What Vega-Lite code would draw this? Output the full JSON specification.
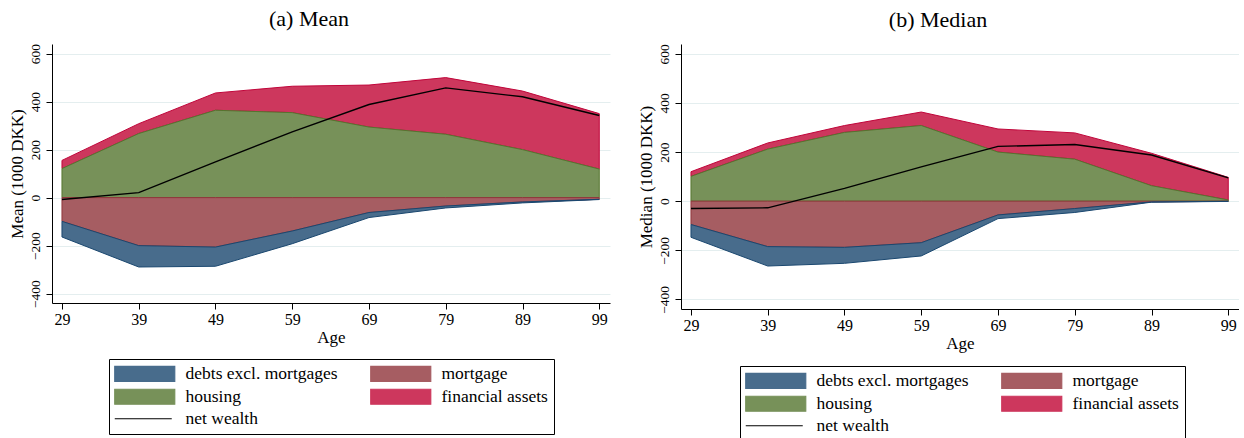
{
  "$schema": "https://vega.github.io/schema/vega-lite/v6.json",
  "padding": {"left": 8, "top": 8, "right": 0, "bottom": 0},
  "data": {
    "values": [
      {"stat": "Mean", "age": 29, "series": "financial assets", "value": 34},
      {"stat": "Mean", "age": 29, "series": "housing", "value": 121},
      {"stat": "Mean", "age": 29, "series": "mortgage", "value": -99},
      {"stat": "Mean", "age": 29, "series": "debts excl. mortgages", "value": -65},
      {"stat": "Mean", "age": 29, "series": "net wealth", "value": -8},
      {"stat": "Mean", "age": 39, "series": "financial assets", "value": 41},
      {"stat": "Mean", "age": 39, "series": "housing", "value": 267},
      {"stat": "Mean", "age": 39, "series": "mortgage", "value": -200},
      {"stat": "Mean", "age": 39, "series": "debts excl. mortgages", "value": -89},
      {"stat": "Mean", "age": 39, "series": "net wealth", "value": 21},
      {"stat": "Mean", "age": 49, "series": "financial assets", "value": 72},
      {"stat": "Mean", "age": 49, "series": "housing", "value": 364},
      {"stat": "Mean", "age": 49, "series": "mortgage", "value": -206},
      {"stat": "Mean", "age": 49, "series": "debts excl. mortgages", "value": -80},
      {"stat": "Mean", "age": 49, "series": "net wealth", "value": 149},
      {"stat": "Mean", "age": 59, "series": "financial assets", "value": 110},
      {"stat": "Mean", "age": 59, "series": "housing", "value": 354},
      {"stat": "Mean", "age": 59, "series": "mortgage", "value": -139},
      {"stat": "Mean", "age": 59, "series": "debts excl. mortgages", "value": -53},
      {"stat": "Mean", "age": 59, "series": "net wealth", "value": 274},
      {"stat": "Mean", "age": 69, "series": "financial assets", "value": 175},
      {"stat": "Mean", "age": 69, "series": "housing", "value": 294},
      {"stat": "Mean", "age": 69, "series": "mortgage", "value": -62},
      {"stat": "Mean", "age": 69, "series": "debts excl. mortgages", "value": -21},
      {"stat": "Mean", "age": 69, "series": "net wealth", "value": 388},
      {"stat": "Mean", "age": 79, "series": "financial assets", "value": 236},
      {"stat": "Mean", "age": 79, "series": "housing", "value": 264},
      {"stat": "Mean", "age": 79, "series": "mortgage", "value": -35},
      {"stat": "Mean", "age": 79, "series": "debts excl. mortgages", "value": -8},
      {"stat": "Mean", "age": 79, "series": "net wealth", "value": 457},
      {"stat": "Mean", "age": 89, "series": "financial assets", "value": 244},
      {"stat": "Mean", "age": 89, "series": "housing", "value": 200},
      {"stat": "Mean", "age": 89, "series": "mortgage", "value": -18},
      {"stat": "Mean", "age": 89, "series": "debts excl. mortgages", "value": -4},
      {"stat": "Mean", "age": 89, "series": "net wealth", "value": 420},
      {"stat": "Mean", "age": 99, "series": "financial assets", "value": 231},
      {"stat": "Mean", "age": 99, "series": "housing", "value": 119},
      {"stat": "Mean", "age": 99, "series": "mortgage", "value": -7},
      {"stat": "Mean", "age": 99, "series": "debts excl. mortgages", "value": -1},
      {"stat": "Mean", "age": 99, "series": "net wealth", "value": 342},
      {"stat": "Median", "age": 29, "series": "financial assets", "value": 19},
      {"stat": "Median", "age": 29, "series": "housing", "value": 101},
      {"stat": "Median", "age": 29, "series": "mortgage", "value": -95},
      {"stat": "Median", "age": 29, "series": "debts excl. mortgages", "value": -52},
      {"stat": "Median", "age": 29, "series": "net wealth", "value": -30},
      {"stat": "Median", "age": 39, "series": "financial assets", "value": 25},
      {"stat": "Median", "age": 39, "series": "housing", "value": 212},
      {"stat": "Median", "age": 39, "series": "mortgage", "value": -185},
      {"stat": "Median", "age": 39, "series": "debts excl. mortgages", "value": -79},
      {"stat": "Median", "age": 39, "series": "net wealth", "value": -27},
      {"stat": "Median", "age": 49, "series": "financial assets", "value": 28},
      {"stat": "Median", "age": 49, "series": "housing", "value": 280},
      {"stat": "Median", "age": 49, "series": "mortgage", "value": -188},
      {"stat": "Median", "age": 49, "series": "debts excl. mortgages", "value": -65},
      {"stat": "Median", "age": 49, "series": "net wealth", "value": 52},
      {"stat": "Median", "age": 59, "series": "financial assets", "value": 55},
      {"stat": "Median", "age": 59, "series": "housing", "value": 308},
      {"stat": "Median", "age": 59, "series": "mortgage", "value": -169},
      {"stat": "Median", "age": 59, "series": "debts excl. mortgages", "value": -54},
      {"stat": "Median", "age": 59, "series": "net wealth", "value": 140},
      {"stat": "Median", "age": 69, "series": "financial assets", "value": 94},
      {"stat": "Median", "age": 69, "series": "housing", "value": 200},
      {"stat": "Median", "age": 69, "series": "mortgage", "value": -56},
      {"stat": "Median", "age": 69, "series": "debts excl. mortgages", "value": -15},
      {"stat": "Median", "age": 69, "series": "net wealth", "value": 223},
      {"stat": "Median", "age": 79, "series": "financial assets", "value": 107},
      {"stat": "Median", "age": 79, "series": "housing", "value": 171},
      {"stat": "Median", "age": 79, "series": "mortgage", "value": -30},
      {"stat": "Median", "age": 79, "series": "debts excl. mortgages", "value": -16},
      {"stat": "Median", "age": 79, "series": "net wealth", "value": 231},
      {"stat": "Median", "age": 89, "series": "financial assets", "value": 132},
      {"stat": "Median", "age": 89, "series": "housing", "value": 63},
      {"stat": "Median", "age": 89, "series": "mortgage", "value": -3},
      {"stat": "Median", "age": 89, "series": "debts excl. mortgages", "value": -1},
      {"stat": "Median", "age": 89, "series": "net wealth", "value": 188},
      {"stat": "Median", "age": 99, "series": "financial assets", "value": 92},
      {"stat": "Median", "age": 99, "series": "housing", "value": 5},
      {"stat": "Median", "age": 99, "series": "mortgage", "value": -0.5},
      {"stat": "Median", "age": 99, "series": "debts excl. mortgages", "value": -0.5},
      {"stat": "Median", "age": 99, "series": "net wealth", "value": 95}
    ]
  },
  "spacing": 26,
  "hconcat": [
    {
      "title": "(a) Mean",
      "width": 558,
      "height": 259,
      "transform": [{"filter": "datum.stat === 'Mean'"}],
      "encoding": {
        "x": {
          "field": "age",
          "type": "quantitative",
          "scale": {"domain": [27.7, 100.4], "nice": false, "zero": false},
          "axis": {"values": [29, 39, 49, 59, 69, 79, 89, 99], "title": "Age", "grid": false}
        }
      },
      "layer": [
        {
          "transform": [{"filter": "datum.series !== 'net wealth'"}],
          "mark": {"type": "area", "strokeWidth": 1},
          "encoding": {
            "y": {
              "field": "value",
              "type": "quantitative",
              "stack": "zero",
              "scale": {"domain": [-439, 640], "nice": false, "zero": false},
              "axis": {"values": [-400, -200, 0, 200, 400, 600], "title": "Mean (1000 DKK)"}
            },
            "color": {
              "field": "series",
              "type": "nominal",
              "scale": {
                "domain": ["debts excl. mortgages", "mortgage", "housing", "financial assets", "net wealth"],
                "range": ["#486c8c", "#a65d62", "#779159", "#cd375d", "#000000"]
              },
              "legend": {
                "orient": "none",
                "legendX": 57,
                "legendY": 315,
                "encoding": {
                  "symbols": {
                    "shape": {"condition": {"test": "datum.value === 'net wealth'", "value": "M-4,0H3.6"}, "value": "M-4,-1H4V1H-4Z"},
                    "stroke": {"value": {"expr": "datum.value === 'net wealth' ? '#000000' : datum.value === 'housing' ? '#55752f' : datum.value === 'mortgage' ? '#90353b' : datum.value === 'financial assets' ? '#c0053a' : '#1a476f'"}}
                  }
                }
              }
            },
            "stroke": {
              "field": "series",
              "type": "nominal",
              "scale": {
                "domain": ["debts excl. mortgages", "mortgage", "housing", "financial assets"],
                "range": ["#1a476f", "#90353b", "#55752f", "#c0053a"]
              },
              "legend": null
            },
            "order": {"field": "series", "type": "nominal", "sort": "descending"}
          }
        },
        {
          "transform": [{"filter": "datum.series === 'net wealth'"}],
          "mark": {"type": "line", "strokeWidth": 1.4},
          "encoding": {
            "y": {"field": "value", "type": "quantitative"},
            "color": {"field": "series", "type": "nominal"}
          }
        }
      ]
    },
    {
      "title": "(b) Median",
      "width": 558,
      "height": 265,
      "transform": [{"filter": "datum.stat === 'Median'"}],
      "encoding": {
        "x": {
          "field": "age",
          "type": "quantitative",
          "scale": {"domain": [27.7, 100.4], "nice": false, "zero": false},
          "axis": {"values": [29, 39, 49, 59, 69, 79, 89, 99], "title": "Age", "grid": false}
        }
      },
      "layer": [
        {
          "transform": [{"filter": "datum.series !== 'net wealth'"}],
          "mark": {"type": "area", "strokeWidth": 1},
          "encoding": {
            "y": {
              "field": "value",
              "type": "quantitative",
              "stack": "zero",
              "scale": {"domain": [-439, 640], "nice": false, "zero": false},
              "axis": {"values": [-400, -200, 0, 200, 400, 600], "title": "Median (1000 DKK)"}
            },
            "color": {
              "field": "series",
              "type": "nominal",
              "scale": {
                "domain": ["debts excl. mortgages", "mortgage", "housing", "financial assets", "net wealth"],
                "range": ["#486c8c", "#a65d62", "#779159", "#cd375d", "#000000"]
              },
              "legend": {
                "orient": "none",
                "legendX": 59,
                "legendY": 322,
                "encoding": {
                  "symbols": {
                    "shape": {"condition": {"test": "datum.value === 'net wealth'", "value": "M-4,0H3.6"}, "value": "M-4,-1H4V1H-4Z"},
                    "stroke": {"value": {"expr": "datum.value === 'net wealth' ? '#000000' : datum.value === 'housing' ? '#55752f' : datum.value === 'mortgage' ? '#90353b' : datum.value === 'financial assets' ? '#c0053a' : '#1a476f'"}}
                  }
                }
              }
            },
            "stroke": {
              "field": "series",
              "type": "nominal",
              "scale": {
                "domain": ["debts excl. mortgages", "mortgage", "housing", "financial assets"],
                "range": ["#1a476f", "#90353b", "#55752f", "#c0053a"]
              },
              "legend": null
            },
            "order": {"field": "series", "type": "nominal", "sort": "descending"}
          }
        },
        {
          "transform": [{"filter": "datum.series === 'net wealth'"}],
          "mark": {"type": "line", "strokeWidth": 1.4},
          "encoding": {
            "y": {"field": "value", "type": "quantitative"},
            "color": {"field": "series", "type": "nominal"}
          }
        }
      ]
    }
  ],
  "resolve": {
    "scale": {"color": "independent", "stroke": "independent", "y": "independent", "x": "independent"},
    "legend": {"color": "independent"}
  },
  "config": {
    "font": "Liberation Serif",
    "view": {"stroke": null},
    "title": {"fontSize": 22, "fontWeight": "normal", "frame": "bounds", "anchor": "middle", "offset": 12, "color": "black"},
    "axis": {
      "domainColor": "black",
      "tickColor": "black",
      "tickSize": 6,
      "labelColor": "black",
      "titleColor": "black",
      "titleFontWeight": "normal",
      "titleFontSize": 17,
      "gridColor": "#e4eeef",
      "gridWidth": 1
    },
    "axisX": {"labelFontSize": 16, "labelPadding": 2, "titlePadding": 2},
    "axisY": {"labelFontSize": 13.5, "labelAngle": -90, "labelAlign": "center", "labelBaseline": "bottom", "labelPadding": 4, "titlePadding": 2},
    "legend": {
      "title": null,
      "direction": "horizontal",
      "columns": 2,
      "columnPadding": 30,
      "rowPadding": 2,
      "padding": 6,
      "strokeColor": "black",
      "fillColor": "white",
      "labelFontSize": 17.5,
      "labelColor": "black",
      "labelLimit": 300,
      "symbolType": "M-4,-1H4V1H-4Z",
      "symbolSize": 225,
      "symbolStrokeWidth": 1.2,
      "symbolOffset": 21,
      "labelOffset": 32
    }
  }
}
